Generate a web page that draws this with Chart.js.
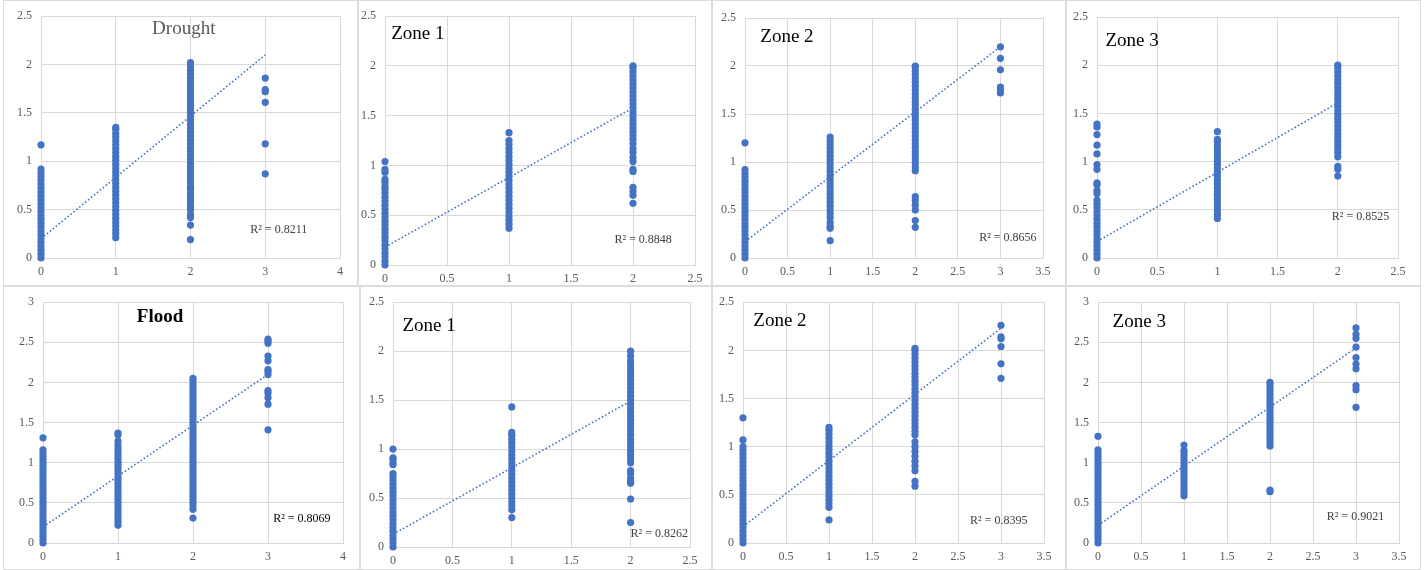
<!DOCTYPE html>
<html>
<head>
<meta charset="utf-8">
<script src="https://cdn.jsdelivr.net/npm/chart.js@4.4.1/dist/chart.umd.min.js"></script>
<style>
  body { margin: 0; background: #fff; }
  #wrap { position: relative; width: 1425px; height: 570px; overflow: hidden; }
  .box { position: absolute; border: 1px solid #dcdcdc; box-sizing: border-box; }
  canvas { position: absolute; }
</style>
</head>
<body>
<div id="wrap"></div>
<script>
// x categories (index of each column below)
const xCats = [0, 1, 2, 3];

// y values per x category
const droughtY = [
  [0,0.04,0.08,0.12,0.16,0.2,0.24,0.28,0.32,0.36,0.4,0.44,0.48,0.52,0.56,0.6,0.64,0.68,0.72,0.76,0.8,0.84,0.88,0.92,1.17],
  [0.21,0.25,0.29,0.33,0.37,0.41,0.45,0.49,0.53,0.57,0.61,0.65,0.69,0.73,0.77,0.81,0.85,0.89,0.93,0.97,1.01,1.05,1.09,1.13,1.17,1.21,1.25,1.29,1.33,1.35],
  [0.19,0.34,0.42,0.45,0.5,0.53,0.57,0.6,0.64,0.67,0.71,0.74,0.78,0.82,0.86,0.9,0.94,0.98,1.02,1.06,1.1,1.14,1.18,1.22,1.26,1.3,1.34,1.38,1.42,1.46,1.5,1.54,1.58,1.62,1.66,1.7,1.74,1.78,1.82,1.86,1.9,1.94,1.98,2.02],
  [0.87,1.18,1.61,1.72,1.74,1.86]
];
const zone1TopY = [
  [0,0.04,0.08,0.12,0.16,0.2,0.24,0.28,0.32,0.36,0.4,0.44,0.48,0.52,0.56,0.6,0.64,0.68,0.72,0.76,0.79,0.83,0.86,0.93,0.96,1.04],
  [0.37,0.41,0.45,0.49,0.53,0.57,0.61,0.65,0.69,0.73,0.77,0.81,0.85,0.89,0.93,0.97,1.01,1.05,1.09,1.13,1.17,1.21,1.25,1.33],
  [0.62,0.7,0.74,0.78,0.94,0.96,1.04,1.08,1.13,1.17,1.22,1.26,1.3,1.34,1.38,1.42,1.46,1.5,1.54,1.58,1.62,1.66,1.7,1.74,1.78,1.82,1.86,1.9,1.94,1.98,2]
];
const zone2TopY = [
  [0,0.04,0.08,0.12,0.16,0.2,0.24,0.28,0.32,0.36,0.4,0.44,0.48,0.52,0.56,0.6,0.64,0.68,0.72,0.76,0.8,0.84,0.88,0.92,1.2],
  [0.18,0.31,0.33,0.37,0.42,0.46,0.5,0.54,0.58,0.62,0.66,0.7,0.74,0.78,0.82,0.86,0.9,0.94,0.98,1.02,1.06,1.1,1.14,1.18,1.22,1.26],
  [0.32,0.39,0.5,0.55,0.6,0.64,0.91,0.95,0.99,1.03,1.07,1.11,1.15,1.19,1.23,1.27,1.31,1.35,1.39,1.43,1.47,1.51,1.55,1.59,1.63,1.67,1.71,1.75,1.79,1.83,1.87,1.91,1.95,1.99,2],
  [1.72,1.75,1.78,1.96,2.08,2.2]
];
const zone3TopY = [
  [0,0.04,0.08,0.12,0.16,0.2,0.24,0.28,0.32,0.36,0.4,0.44,0.48,0.52,0.56,0.6,0.67,0.7,0.76,0.78,0.92,0.97,1.08,1.17,1.28,1.36,1.39],
  [0.41,0.45,0.49,0.53,0.57,0.61,0.65,0.69,0.73,0.77,0.81,0.85,0.89,0.93,0.97,1.01,1.05,1.09,1.13,1.17,1.21,1.23,1.31],
  [0.85,0.92,0.95,1.05,1.09,1.13,1.17,1.21,1.25,1.29,1.33,1.37,1.41,1.45,1.49,1.53,1.57,1.61,1.65,1.69,1.73,1.77,1.81,1.85,1.89,1.93,1.97,2]
];
const floodY = [
  [0,0.04,0.08,0.12,0.16,0.2,0.24,0.28,0.32,0.36,0.4,0.44,0.48,0.52,0.56,0.6,0.64,0.68,0.72,0.76,0.8,0.84,0.88,0.92,0.96,1,1.04,1.08,1.12,1.16,1.31],
  [0.22,0.26,0.3,0.34,0.38,0.42,0.46,0.5,0.54,0.58,0.62,0.66,0.7,0.74,0.78,0.82,0.86,0.9,0.94,0.98,1.02,1.06,1.1,1.14,1.18,1.22,1.27,1.35,1.37],
  [0.31,0.42,0.46,0.5,0.54,0.58,0.62,0.66,0.7,0.74,0.78,0.82,0.86,0.9,0.94,0.98,1.02,1.06,1.1,1.14,1.18,1.22,1.26,1.3,1.34,1.38,1.42,1.46,1.5,1.54,1.58,1.62,1.66,1.7,1.74,1.78,1.82,1.86,1.9,1.94,1.98,2.02,2.05],
  [1.41,1.73,1.81,1.87,1.9,2.1,2.14,2.16,2.27,2.33,2.49,2.52,2.54]
];
const zone1BotY = [
  [0,0.04,0.08,0.12,0.16,0.2,0.24,0.28,0.32,0.36,0.4,0.44,0.48,0.52,0.56,0.6,0.64,0.68,0.72,0.75,0.84,0.86,0.89,0.91,1],
  [0.3,0.38,0.42,0.46,0.5,0.54,0.58,0.62,0.66,0.7,0.74,0.78,0.82,0.86,0.9,0.94,0.98,1.02,1.06,1.1,1.14,1.17,1.43],
  [0.25,0.49,0.65,0.67,0.7,0.75,0.78,0.86,0.9,0.94,0.98,1.02,1.06,1.1,1.14,1.18,1.22,1.26,1.3,1.34,1.38,1.42,1.46,1.5,1.54,1.58,1.62,1.66,1.7,1.74,1.78,1.82,1.86,1.9,1.95,2]
];
const zone2BotY = [
  [0,0.04,0.08,0.12,0.16,0.2,0.24,0.28,0.32,0.36,0.4,0.44,0.48,0.52,0.56,0.6,0.64,0.68,0.72,0.76,0.8,0.84,0.88,0.92,0.96,1,1.07,1.3],
  [0.24,0.37,0.41,0.45,0.49,0.53,0.57,0.61,0.65,0.69,0.73,0.77,0.81,0.85,0.89,0.93,0.97,1.01,1.05,1.09,1.13,1.17,1.2],
  [0.59,0.64,0.75,0.8,0.85,0.9,0.95,1,1.05,1.12,1.16,1.2,1.24,1.28,1.32,1.36,1.4,1.44,1.48,1.52,1.56,1.6,1.64,1.68,1.72,1.76,1.8,1.84,1.88,1.92,1.96,2,2.02],
  [1.71,1.86,2.04,2.12,2.14,2.26]
];
const zone3BotY = [
  [0,0.04,0.08,0.12,0.16,0.2,0.24,0.28,0.32,0.36,0.4,0.44,0.48,0.52,0.56,0.6,0.64,0.68,0.72,0.76,0.8,0.84,0.88,0.92,0.96,1,1.04,1.08,1.12,1.16,1.33],
  [0.59,0.63,0.67,0.71,0.75,0.79,0.83,0.87,0.91,0.95,0.99,1.03,1.07,1.11,1.15,1.22],
  [0.64,0.66,1.21,1.25,1.29,1.33,1.37,1.41,1.45,1.49,1.53,1.57,1.61,1.65,1.69,1.73,1.77,1.81,1.85,1.89,1.93,1.97,2],
  [1.69,1.91,1.96,2.17,2.23,2.31,2.44,2.55,2.6,2.68]
];

// dotted trend lines: [x start, x end] and [y start, y end]
const droughtTrend = [[0, 3], [0.2, 2.1]];
const zone1TopTrend = [[0, 2], [0.18, 1.58]];
const zone2TopTrend = [[0, 3], [0.17, 2.2]];
const zone3TopTrend = [[0, 2], [0.17, 1.61]];
const floodTrend = [[0, 3], [0.2, 2.1]];
const zone1BotTrend = [[0, 2], [0.13, 1.49]];
const zone2BotTrend = [[0, 3], [0.17, 2.23]];
const zone3BotTrend = [[0, 3], [0.22, 2.43]];

const titles = ['Drought', 'Zone 1', 'Zone 2', 'Zone 3', 'Flood', 'Zone 1', 'Zone 2', 'Zone 3'];
const r2Labels = ['R² = 0.8211', 'R² = 0.8848', 'R² = 0.8656', 'R² = 0.8525',
                  'R² = 0.8069', 'R² = 0.8262', 'R² = 0.8395', 'R² = 0.9021'];

const BLUE = '#4472c4';
const GRID = '#d9d9d9';
const SERIF = "'Liberation Serif', 'Times New Roman', serif";

// panel boxes and plot areas (px), axis ranges, label spots in data units
const panels = [
  { ys: droughtY, trend: droughtTrend, box: [3, 0, 355, 286], plot: [41, 15, 340, 258], xMax: 4, xStep: 1, yMax: 2.5,
    title: { at: [1.91, 2.37], align: 'center', color: '#595959', weight: 'normal' }, r2: { at: [2.8, 0.29], color: '#404040' } },
  { ys: zone1TopY, trend: zone1TopTrend, box: [358, 0, 354, 286], plot: [385, 14, 695, 265], xMax: 2.5, xStep: 0.5, yMax: 2.5,
    title: { at: [0.05, 2.32], align: 'left', color: '#000', weight: 'normal' }, r2: { at: [1.85, 0.25], color: '#404040' } },
  { ys: zone2TopY, trend: zone2TopTrend, box: [712, 0, 354, 286], plot: [745, 18, 1043, 258], xMax: 3.5, xStep: 0.5, yMax: 2.5,
    title: { at: [0.18, 2.3], align: 'left', color: '#000', weight: 'normal' }, r2: { at: [2.75, 0.21], color: '#404040' } },
  { ys: zone3TopY, trend: zone3TopTrend, box: [1066, 0, 355, 286], plot: [1097, 17, 1398, 258], xMax: 2.5, xStep: 0.5, yMax: 2.5,
    title: { at: [0.07, 2.25], align: 'left', color: '#000', weight: 'normal' }, r2: { at: [1.95, 0.43], color: '#404040' } },
  { ys: floodY, trend: floodTrend, box: [3, 286, 357, 284], plot: [43, 297, 343, 543], xMax: 4, xStep: 1, yMax: 3,
    title: { at: [1.56, 2.82], align: 'center', color: '#000', weight: 'bold' }, r2: { at: [3.07, 0.3], color: '#000' } },
  { ys: zone1BotY, trend: zone1BotTrend, box: [360, 286, 352, 284], plot: [393, 295, 690, 547], xMax: 2.5, xStep: 0.5, yMax: 2.5,
    title: { at: [0.08, 2.26], align: 'left', color: '#000', weight: 'normal' }, r2: { at: [2.0, 0.13], color: '#404040' } },
  { ys: zone2BotY, trend: zone2BotTrend, box: [712, 286, 354, 284], plot: [743, 302, 1044, 543], xMax: 3.5, xStep: 0.5, yMax: 2.5,
    title: { at: [0.12, 2.3], align: 'left', color: '#000', weight: 'normal' }, r2: { at: [2.64, 0.23], color: '#404040' } },
  { ys: zone3BotY, trend: zone3BotTrend, box: [1066, 286, 355, 284], plot: [1098, 300, 1399, 543], xMax: 3.5, xStep: 0.5, yMax: 3,
    title: { at: [0.17, 2.75], align: 'left', color: '#000', weight: 'normal' }, r2: { at: [2.66, 0.32], color: '#404040' } }
];

// draws the panel title and the R² text
const labelPlugin = {
  id: 'labels',
  afterDatasetsDraw(chart, args, opts) {
    const { ctx, scales } = chart;
    const t = opts.title, r = opts.r2;
    ctx.save();
    ctx.textBaseline = 'middle';
    ctx.font = t.weight + ' 19px ' + SERIF;
    ctx.fillStyle = t.color;
    ctx.textAlign = t.align;
    ctx.fillText(opts.titleText, scales.x.getPixelForValue(t.at[0]), scales.y.getPixelForValue(t.at[1]));
    ctx.font = '12px ' + SERIF;
    ctx.fillStyle = r.color;
    ctx.textAlign = 'left';
    ctx.fillText(opts.r2Text, scales.x.getPixelForValue(r.at[0]), scales.y.getPixelForValue(r.at[1]));
    ctx.restore();
  }
};

const tickFmt = v => String(v);

const wrap = document.getElementById('wrap');

panels.forEach((p, i) => {
  const [bx, by, bw, bh] = p.box;
  const [pl, pt, pr, pb] = p.plot;

  const frame = document.createElement('div');
  frame.className = 'box';
  Object.assign(frame.style, { left: bx + 'px', top: by + 'px', width: bw + 'px', height: bh + 'px' });
  wrap.appendChild(frame);

  const canvas = document.createElement('canvas');
  canvas.width = bw;
  canvas.height = bh;
  Object.assign(canvas.style, { left: bx + 'px', top: by + 'px', width: bw + 'px', height: bh + 'px' });
  wrap.appendChild(canvas);

  const points = p.ys.flatMap((col, k) => col.map(y => ({ x: xCats[k], y: y })));
  const trendPts = p.trend[0].map((x, k) => ({ x: x, y: p.trend[1][k] }));

  new Chart(canvas, {
    type: 'scatter',
    data: {
      datasets: [
        { data: points, backgroundColor: BLUE, borderColor: BLUE, pointRadius: 3.6, borderWidth: 0, clip: false },
        { type: 'line', data: trendPts, borderColor: BLUE, borderWidth: 1.6, borderDash: [1.6, 2.2],
          pointRadius: 0, fill: false, tension: 0, clip: false }
      ]
    },
    options: {
      responsive: false,
      animation: false,
      layout: { padding: { left: 0, top: pt - by, right: bx + bw - pr, bottom: 0 } },
      plugins: {
        legend: { display: false },
        tooltip: { enabled: false },
        labels: { title: p.title, r2: p.r2, titleText: titles[i], r2Text: r2Labels[i] }
      },
      scales: {
        x: {
          type: 'linear', min: 0, max: p.xMax,
          afterFit: s => { s.height = by + bh - pb; },
          ticks: { stepSize: p.xStep, padding: 7, color: '#595959', font: { family: SERIF, size: 12 }, callback: tickFmt },
          grid: { color: GRID, drawTicks: false },
          border: { color: GRID }
        },
        y: {
          type: 'linear', min: 0, max: p.yMax,
          afterFit: s => { s.width = pl - bx; },
          ticks: { stepSize: 0.5, padding: 9, color: '#595959', font: { family: SERIF, size: 12 }, callback: tickFmt },
          grid: { color: GRID, drawTicks: false },
          border: { color: GRID }
        }
      }
    },
    plugins: [labelPlugin]
  });
});
</script>
</body>
</html>
